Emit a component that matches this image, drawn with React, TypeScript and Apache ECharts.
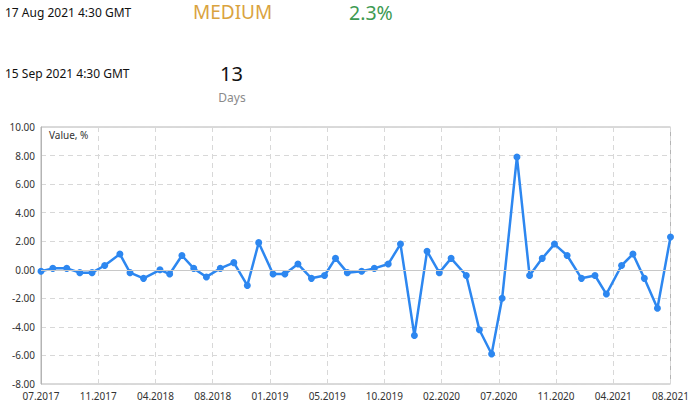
import React, { useEffect, useRef } from "react";
import * as echarts from "echarts";

// Release dates and actual values (%)
const releaseDates: string[] = [
  "2017-07-17", "2017-08-14", "2017-09-16", "2017-10-17", "2017-11-15", "2017-12-15",
  "2018-01-20", "2018-02-13", "2018-03-17", "2018-04-25", "2018-05-18", "2018-06-16",
  "2018-07-14", "2018-08-13", "2018-09-15", "2018-10-17", "2018-11-18", "2018-12-15",
  "2019-01-18", "2019-02-15", "2019-03-18", "2019-04-19", "2019-05-20", "2019-06-15",
  "2019-07-13", "2019-08-16", "2019-09-15", "2019-10-18", "2019-11-16", "2019-12-19",
  "2020-01-18", "2020-02-16", "2020-03-15", "2020-04-20", "2020-05-21", "2020-06-19",
  "2020-07-14", "2020-08-18", "2020-09-17", "2020-10-17", "2020-11-15", "2020-12-15",
  "2021-01-18", "2021-02-19", "2021-03-18", "2021-04-23", "2021-05-20", "2021-06-16",
  "2021-07-17", "2021-08-17",
];
const values: number[] = [
  -0.1, 0.1, 0.1, -0.2, -0.2, 0.3,
  1.1, -0.2, -0.6, 0.0, -0.3, 1.0,
  0.1, -0.5, 0.1, 0.5, -1.1, 1.9,
  -0.3, -0.3, 0.4, -0.6, -0.4, 0.8,
  -0.2, -0.1, 0.1, 0.4, 1.8, -4.6,
  1.3, -0.2, 0.8, -0.4, -4.2, -5.9,
  -2.0, 7.9, -0.4, 0.8, 1.8, 1.0,
  -0.6, -0.4, -1.7, 0.3, 1.1, -0.6,
  -2.7, 2.3,
];
const xTickLabels: string[] = [
  "07.2017", "11.2017", "04.2018", "08.2018", "01.2019", "05.2019",
  "10.2019", "02.2020", "07.2020", "11.2020", "04.2021", "08.2021",
];
const yMin = -8;
const yMax = 10;
const yStep = 2;

const headerTexts = {
  prevDate: "17 Aug 2021 4:30 GMT",
  importance: "MEDIUM",
  actual: "2.3%",
  nextDate: "15 Sep 2021 4:30 GMT",
  daysLeft: "13",
  daysUnit: "Days",
};

const DAY = 86400000;
const toTs = (s: string) => {
  const [y, m, d] = s.split("-").map(Number);
  return Date.UTC(y, m - 1, d);
};

export default function App() {
  const ref = useRef<HTMLDivElement>(null);
  useEffect(() => {
    if (!ref.current) return;
    const chart = echarts.init(ref.current, undefined, { renderer: "svg" });
    const t0 = toTs(releaseDates[0]);
    const span = (toTs(releaseDates[releaseDates.length - 1]) - t0) / DAY;
    const xInterval = span / (xTickLabels.length - 1);
    const points = releaseDates.map((d, i) => [(toTs(d) - t0) / DAY, values[i]]);
    const font = "Noto Sans";
    chart.setOption({
      animation: false,
      textStyle: { fontFamily: font },
      grid: {
        left: 41,
        right: 21,
        top: 127,
        bottom: 20,
        show: true,
        borderColor: "#b4b4b4",
        borderWidth: 1,
      },
      xAxis: {
        type: "value",
        min: 0,
        max: span,
        interval: xInterval,
        axisLine: { show: true, lineStyle: { color: "#b4b4b4" } },
        axisTick: { show: false },
        axisLabel: {
          color: "#333",
          fontSize: 10,
          fontFamily: font,
          margin: 7,
          showMinLabel: true,
          showMaxLabel: true,
          formatter: (v: number) => xTickLabels[Math.round(v / xInterval)] ?? "",
        },
        splitLine: { show: true, lineStyle: { color: "#d8d8d8", type: [5, 4] } },
      },
      yAxis: {
        type: "value",
        min: yMin,
        max: yMax,
        interval: yStep,
        axisLine: { show: true, lineStyle: { color: "#b4b4b4" } },
        axisTick: { show: false },
        axisLabel: {
          color: "#333",
          fontSize: 10,
          fontFamily: font,
          margin: 6,
          formatter: (v: number) => v.toFixed(2),
        },
        splitLine: { show: true, lineStyle: { color: "#d8d8d8", type: [5, 4] } },
      },
      graphic: [
        { type: "text", x: 5, y: 12, style: { text: headerTexts.prevDate, font: `12px '${font}'`, fill: "#111", textVerticalAlign: "middle" } },
        { type: "text", x: 193, y: 12, style: { text: headerTexts.importance, font: `19px '${font}'`, fill: "#daa33f", textVerticalAlign: "middle" } },
        { type: "text", x: 349, y: 12, style: { text: headerTexts.actual, font: `19.5px '${font}'`, fill: "#3d9a52", textVerticalAlign: "middle" } },
        { type: "text", x: 5, y: 73, style: { text: headerTexts.nextDate, font: `12px '${font}'`, fill: "#111", textVerticalAlign: "middle" } },
        { type: "text", x: 231.5, y: 73, style: { text: headerTexts.daysLeft, font: `20px '${font}'`, fill: "#111", textAlign: "center", textVerticalAlign: "middle" } },
        { type: "text", x: 232, y: 97, style: { text: headerTexts.daysUnit, font: `12px '${font}'`, fill: "#8a8a8a", textAlign: "center", textVerticalAlign: "middle" } },
        { type: "text", x: 49, y: 135, z: 10, style: { text: "Value, %", font: `10px '${font}'`, fill: "#333", textVerticalAlign: "middle" } },
      ],
      series: [
        {
          type: "line",
          data: [],
          z: 1,
          markLine: {
            silent: true,
            symbol: "none",
            label: { show: false },
            lineStyle: { color: "#c8c8c8", type: "solid", width: 1 },
            data: [{ yAxis: 0 }],
          },
        },
        {
          type: "line",
          data: points,
          z: 3,
          symbol: "circle",
          symbolSize: 7,
          showSymbol: true,
          lineStyle: { color: "#2d87f0", width: 2.5 },
          itemStyle: { color: "#2d87f0" },
        },
      ],
    });
    return () => chart.dispose();
  }, []);
  return (
    <div
      ref={ref}
      style={{ position: "fixed", left: 0, top: 0, width: 692, height: 404, background: "#fff" }}
    />
  );
}
